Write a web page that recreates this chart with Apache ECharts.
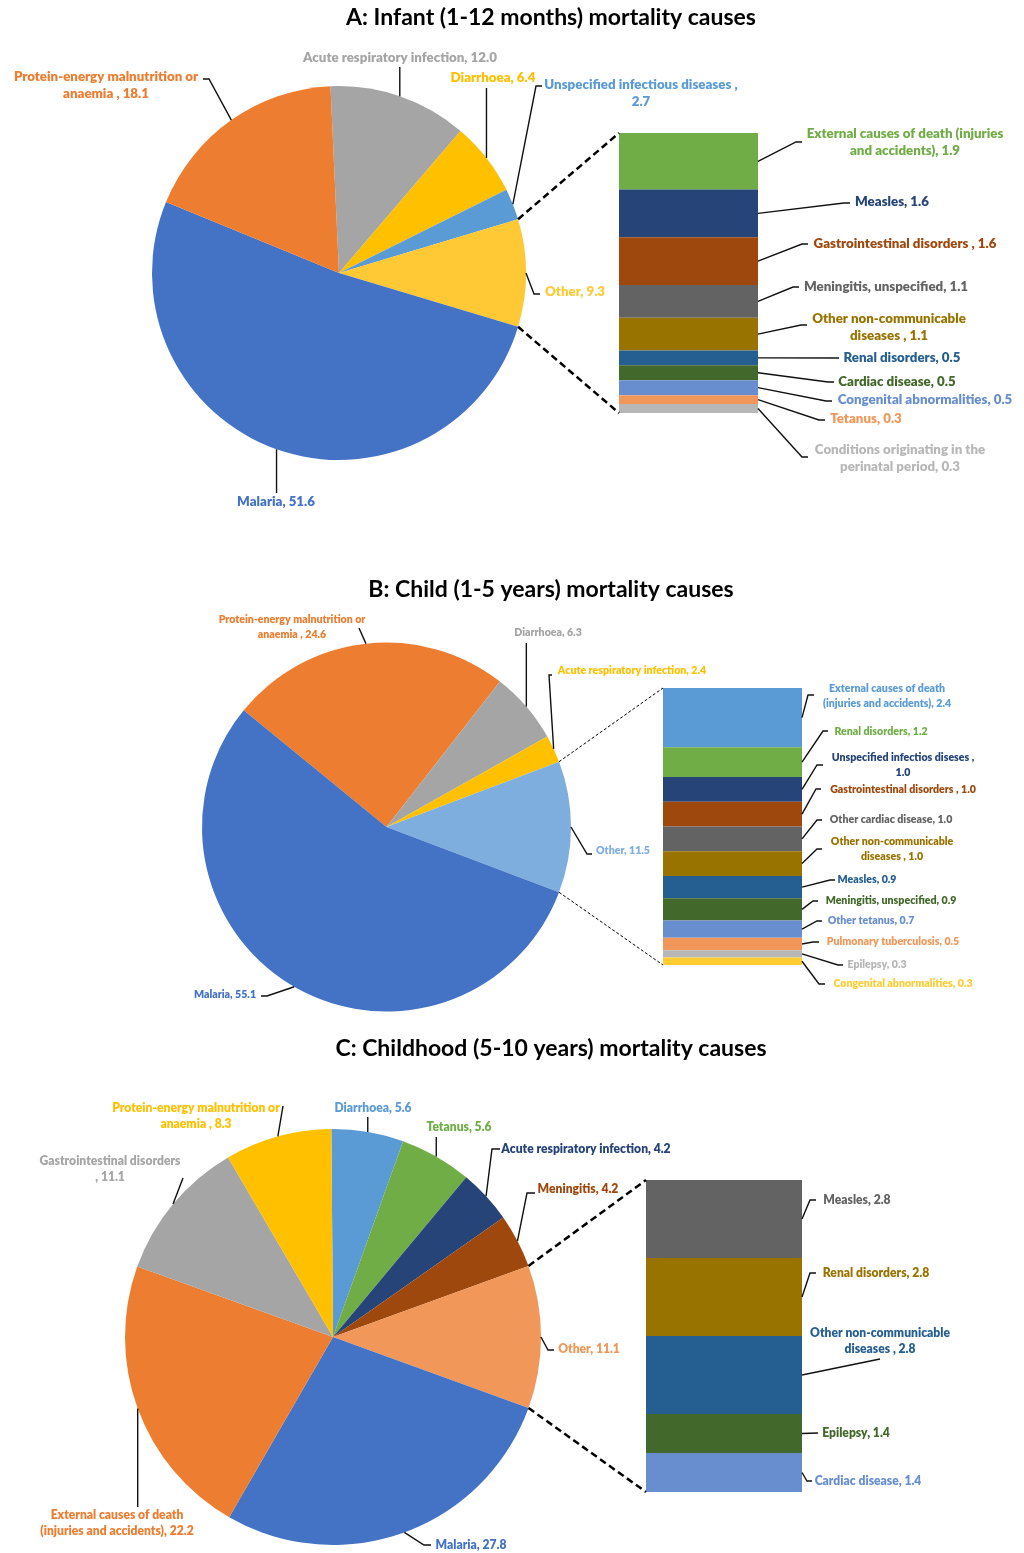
<!DOCTYPE html>
<html>
<head>
<meta charset="utf-8">
<script src="https://cdn.jsdelivr.net/npm/echarts@6/dist/echarts.min.js"></script>
<style>
  html, body { margin: 0; padding: 0; background: #ffffff; }
  #chart { width: 1024px; height: 1553px; }
</style>
</head>
<body>
<div id="chart"></div>
<script>
// ---------------- Data ----------------
// A: infants (1-12 months)
const infantTitle = 'A: Infant (1-12 months) mortality causes';
const infantPieNames = ['Acute respiratory infection', 'Diarrhoea', 'Unspecified infectious diseases ', 'Other', 'Malaria', 'Protein-energy malnutrition or\nanaemia '];
const infantPieValues = [12.0, 6.4, 2.7, 9.3, 51.6, 18.1];
const infantBarNames = ['External causes of death (injuries\nand accidents)', 'Measles', 'Gastrointestinal disorders ', 'Meningitis, unspecified', 'Other non-communicable\ndiseases ', 'Renal disorders', 'Cardiac disease', 'Congenital abnormalities', 'Tetanus', 'Conditions originating in the\nperinatal period'];
const infantBarValues = [1.9, 1.6, 1.6, 1.1, 1.1, 0.5, 0.5, 0.5, 0.3, 0.3];

// B: children (1-5 years)
const childTitle = 'B: Child (1-5 years) mortality causes';
const childPieNames = ['Protein-energy malnutrition or\nanaemia ', 'Diarrhoea', 'Acute respiratory infection', 'Other', 'Malaria'];
const childPieValues = [24.6, 6.3, 2.4, 11.5, 55.1];
const childBarNames = ['External causes of death\n(injuries and accidents)', 'Renal disorders', 'Unspecified infectios diseses ', 'Gastrointestinal disorders ', 'Other cardiac disease', 'Other non-communicable\ndiseases ', 'Measles', 'Meningitis, unspecified', 'Other tetanus', 'Pulmonary tuberculosis', 'Epilepsy', 'Congenital abnormalities'];
const childBarValues = [2.4, 1.2, 1.0, 1.0, 1.0, 1.0, 0.9, 0.9, 0.7, 0.5, 0.3, 0.3];

// C: childhood (5-10 years)
const childhoodTitle = 'C: Childhood (5-10 years) mortality causes';
const childhoodPieNames = ['Diarrhoea', 'Tetanus', 'Acute respiratory infection', 'Meningitis', 'Other', 'Malaria', 'External causes of death\n(injuries and accidents)', 'Gastrointestinal disorders\n', 'Protein-energy malnutrition or\nanaemia '];
const childhoodPieValues = [5.6, 5.6, 4.2, 4.2, 11.1, 27.8, 22.2, 11.1, 8.3];
const childhoodBarNames = ['Measles', 'Renal disorders', 'Other non-communicable\ndiseases ', 'Epilepsy', 'Cardiac disease'];
const childhoodBarValues = [2.8, 2.8, 2.8, 1.4, 1.4];

// Labels whose value goes on its own line
const valueOnNewLine = new Set(['Unspecified infectious diseases ', 'Unspecified infectios diseses ']);
function fmtLabel(name, v) {
  return name + ',' + (valueOnNewLine.has(name) ? '\n' : ' ') + Number(v).toFixed(1);
}

// ---------------- Layout & style ----------------
// label spec: [x, y, endDx, endDy, tick]; endDx null = leader runs vertically at the anchor's x
const FONT = 'Lato, "Open Sans", sans-serif';
const LABEL_WEIGHT = 800;
const panels = [
  {
    title: infantTitle, titleY: 18,
    pieNames: infantPieNames, pieValues: infantPieValues,
    barNames: infantBarNames, barValues: infantBarValues,
    center: [339, 273], radius: 187,
    grid: { left: 619, top: 133, width: 139, height: 280 },
    fontSize: 13.3, lineHeight: 17,
    dash: { lineWidth: 2.5, lineDash: [7, 4] },
    pieColors: ['#A5A5A5', '#FFC000', '#5B9BD5', '#FFC935', '#4472C4', '#ED7D31'],
    barColors: ['#70AD47', '#264478', '#9E480E', '#636363', '#997300', '#255E91', '#43682B', '#698ED0', '#F1975A', '#B7B7B7'],
    pieLabels: [
      [400, 58, null, 9, 0],
      [493, 78, null, 10, 0],
      [641, 93, -99, -7, -6],
      [575, 292, -35, 2, -6],
      [276, 502, null, -9, 0],
      [106, 85, 97, -6, 6]
    ],
    barLabels: [
      [905, 142, -103, 0, -6],
      [892, 202, -42, 1, -6],
      [905, 244, -97, 0, -6],
      [886, 287, -87, 0, -6],
      [889, 327, -82, -2, -6],
      [902, 358, -63, 0, 0],
      [897, 382, -63, 0, -6],
      [925, 400, -93, 1, -6],
      [866, 419, -41, 1, -6],
      [900, 458, -92, -1, -6]
    ]
  },
  {
    title: childTitle, titleY: 590,
    pieNames: childPieNames, pieValues: childPieValues,
    barNames: childBarNames, barValues: childBarValues,
    center: [386.5, 827], radius: 184.5,
    grid: { left: 663, top: 688, width: 139, height: 277 },
    fontSize: 10.6, lineHeight: 15,
    dash: { lineWidth: 1, lineDash: [3, 2] },
    pieColors: ['#ED7D31', '#A5A5A5', '#FFC000', '#7EAEDD', '#4472C4'],
    barColors: ['#5B9BD5', '#70AD47', '#264478', '#9E480E', '#636363', '#997300', '#255E91', '#43682B', '#698ED0', '#F1975A', '#B7B7B7', '#FFCD33'],
    pieLabels: [
      [292, 627, 67, 1, 0],
      [548, 633, null, 10, 0],
      [632, 671, -80, 4, -3],
      [623, 851, -31, 3, -5],
      [225, 995, 36, 1, 6]
    ],
    barLabels: [
      [887, 696, -73, -1, -6],
      [881, 732, -53, -1, -5],
      [903, 765, -80, 0, -6],
      [903, 790, -82, -1, -5],
      [891, 820, -69, 0, -5],
      [892, 849, -70, 0, -5],
      [867, 880, -32, 0, -5],
      [891, 901, -73, 0, -5],
      [871, 921, -49, 0, -5],
      [893, 942, -74, 0, -6],
      [877, 965, -34, 0, -5],
      [903, 984, -78, 0, -6]
    ]
  },
  {
    title: childhoodTitle, titleY: 1049,
    pieNames: childhoodPieNames, pieValues: childhoodPieValues,
    barNames: childhoodBarNames, barValues: childhoodBarValues,
    center: [333, 1337], radius: 208,
    grid: { left: 646, top: 1180, width: 156, height: 312 },
    fontSize: 12.1, lineHeight: 16,
    dash: { lineWidth: 2.5, lineDash: [7, 4] },
    pieColors: ['#5B9BD5', '#70AD47', '#264478', '#9E480E', '#F1975A', '#4472C4', '#ED7D31', '#A5A5A5', '#FFC000'],
    barColors: ['#636363', '#997300', '#255E91', '#43682B', '#698ED0'],
    pieLabels: [
      [373, 1108, null, 9, 0],
      [459, 1127, null, 10, 0],
      [586, 1149, -86, 0, -8],
      [578, 1189, -43, 4, -8],
      [589, 1349, -35, 1, -6],
      [471, 1545, -40, 0, -7],
      [117, 1523, null, -16, 0],
      [110, 1169, 73, 9, 0],
      [196, 1116, 87, -10, 0]
    ],
    barLabels: [
      [857, 1200, -41, 0, -6],
      [876, 1273, -60, 0, -6],
      [880, 1341, 0, 18, 0],
      [856, 1433, -38, 0, 0],
      [868, 1481, -56, 0, -5]
    ]
  }
];

// Rotate each pie so the "Other" slice sits centred at 3 o'clock
function otherCentredStart(names, values) {
  const k = names.indexOf('Other');
  const total = values.reduce((a, b) => a + b, 0);
  const before = values.slice(0, k).reduce((a, b) => a + b, 0);
  return (before + values[k] / 2) / total * 360;
}

// ---------------- Option ----------------
const titles = [], grids = [], xAxes = [], yAxes = [], series = [];
panels.forEach((P, k) => {
  titles.push({
    text: P.title, left: 551, top: P.titleY - 14, textAlign: 'center', padding: 0,
    textStyle: { fontFamily: FONT, fontSize: 23, fontWeight: 'bold', color: '#000', lineHeight: 28 }
  });
  grids.push(Object.assign({ containLabel: false }, P.grid));
  xAxes.push({ type: 'category', gridIndex: k, data: ['causes'], show: false });
  const barTotal = P.barValues.reduce((a, b) => a + b, 0);
  yAxes.push({ type: 'value', gridIndex: k, min: 0, max: barTotal, inverse: true, show: false });

  const labelFont = { fontFamily: FONT, fontWeight: LABEL_WEIGHT, fontSize: P.fontSize, lineHeight: P.lineHeight };
  P.pieSeries = series.length;
  series.push({
    type: 'pie',
    center: P.center, radius: P.radius,
    startAngle: otherCentredStart(P.pieNames, P.pieValues),
    clockwise: true, avoidLabelOverlap: false,
    animation: false,
    emphasis: { disabled: true },
    data: P.pieNames.map((n, i) => ({
      name: n, value: P.pieValues[i],
      itemStyle: { color: P.pieColors[i] },
      label: { color: P.pieColors[i] }
    })),
    label: Object.assign({ show: true, position: 'outside', formatter: p => fmtLabel(p.name, p.value) }, labelFont),
    labelLine: { show: false },
    labelLayout: params => {
      const s = P.pieLabels[params.dataIndex];
      return { x: s[0], y: s[1], align: 'center', verticalAlign: 'middle' };
    }
  });

  P.barSeries = [];
  P.barNames.forEach((n, i) => {
    P.barSeries.push(series.length);
    series.push({
      type: 'bar', name: n, xAxisIndex: k, yAxisIndex: k, stack: 'panel' + k,
      barCategoryGap: '0%', barWidth: '100%',
      animation: false,
      emphasis: { disabled: true },
      data: [P.barValues[i]],
      itemStyle: { color: P.barColors[i] },
      label: Object.assign({ show: true, position: 'right', color: P.barColors[i], formatter: () => fmtLabel(n, P.barValues[i]) }, labelFont),
      labelLayout: () => {
        const s = P.barLabels[i];
        return { x: s[0], y: s[1], align: 'center', verticalAlign: 'middle' };
      }
    });
  });
});

const chart = echarts.init(document.getElementById('chart'), null, { renderer: 'canvas' });
chart.setOption({
  backgroundColor: '#ffffff',
  animation: false,
  title: titles,
  grid: grids,
  xAxis: xAxes,
  yAxis: yAxes,
  series: series
});

// ---------------- Leader lines and pie-to-bar connectors ----------------
const model = chart.getModel();
const graphics = [];
function leader(anchor, s) {
  const ex = s[2] == null ? anchor[0] : s[0] + s[2];
  const ey = s[1] + s[3];
  const pts = [anchor];
  if (s[4]) pts.push([ex + s[4], ey]);
  pts.push([ex, ey]);
  graphics.push({
    type: 'polyline', silent: true, z: 20,
    shape: { points: pts },
    style: { stroke: '#111', lineWidth: 1.4, fill: null }
  });
}
function barRect(seriesIndex) {
  const L = model.getSeriesByIndex(seriesIndex).getData().getItemLayout(0);
  const top = Math.min(L.y, L.y + L.height), bottom = Math.max(L.y, L.y + L.height);
  const left = Math.min(L.x, L.x + L.width), right = Math.max(L.x, L.x + L.width);
  return { left, right, top, bottom };
}
panels.forEach(P => {
  const pieData = model.getSeriesByIndex(P.pieSeries).getData();
  P.pieNames.forEach((n, i) => {
    const L = pieData.getItemLayout(i);
    const m = (L.startAngle + L.endAngle) / 2;
    leader([L.cx + L.r * Math.cos(m), L.cy + L.r * Math.sin(m)], P.pieLabels[i]);
  });
  P.barSeries.forEach((si, i) => {
    const R = barRect(si);
    leader([R.right, (R.top + R.bottom) / 2], P.barLabels[i]);
  });
  // dashed links from the "Other" slice edges to the stacked bar corners
  const O = pieData.getItemLayout(P.pieNames.indexOf('Other'));
  const a0 = Math.min(O.startAngle, O.endAngle), a1 = Math.max(O.startAngle, O.endAngle);
  const first = barRect(P.barSeries[0]);
  const last = barRect(P.barSeries[P.barSeries.length - 1]);
  [[a0, [first.left, first.top]], [a1, [last.left, last.bottom]]].forEach(([a, pt]) => {
    graphics.push({
      type: 'line', silent: true, z: 20,
      shape: { x1: O.cx + O.r * Math.cos(a), y1: O.cy + O.r * Math.sin(a), x2: pt[0], y2: pt[1] },
      style: { stroke: '#000', lineWidth: P.dash.lineWidth, lineDash: P.dash.lineDash }
    });
  });
});
chart.setOption({ graphic: graphics });
</script>
</body>
</html>
